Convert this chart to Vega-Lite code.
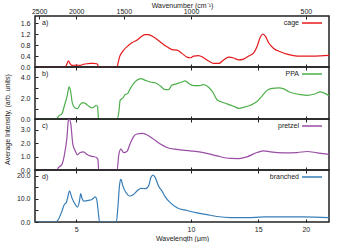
{
  "$schema": "https://vega.github.io/schema/vega-lite/v6.json",
  "padding": {"left": 2, "top": 0, "right": 0, "bottom": 0},
  "spacing": 0,
  "bounds": "flush",
  "datasets": {
    "cage": [
      {"wl": 3.9, "v": 0}, {"wl": 4.68, "v": 0}, {"wl": 4.72, "v": 0.08}, {"wl": 4.77, "v": 0.23}, {"wl": 4.82, "v": 0.12},
      {"wl": 4.87, "v": 0.06}, {"wl": 5.02, "v": 0.07}, {"wl": 5.12, "v": 0.06}, {"wl": 5.23, "v": 0.1}, {"wl": 5.33, "v": 0.12},
      {"wl": 5.44, "v": 0.13}, {"wl": 5.55, "v": 0.13}, {"wl": 5.66, "v": 0.12}, {"wl": 5.69, "v": 0.1}, {"wl": 5.72, "v": 0},
      {"wl": 6.4, "v": 0}, {"wl": 6.44, "v": 0.15}, {"wl": 6.5, "v": 0.38}, {"wl": 6.58, "v": 0.52}, {"wl": 6.66, "v": 0.62},
      {"wl": 6.79, "v": 0.74}, {"wl": 7.0, "v": 0.89}, {"wl": 7.21, "v": 0.98}, {"wl": 7.43, "v": 1.13}, {"wl": 7.59, "v": 1.19},
      {"wl": 7.74, "v": 1.19}, {"wl": 7.98, "v": 1.1}, {"wl": 8.31, "v": 0.92}, {"wl": 8.65, "v": 0.74}, {"wl": 8.91, "v": 0.64},
      {"wl": 9.19, "v": 0.62}, {"wl": 9.47, "v": 0.5}, {"wl": 9.76, "v": 0.36}, {"wl": 9.96, "v": 0.34}, {"wl": 10.16, "v": 0.4},
      {"wl": 10.47, "v": 0.42}, {"wl": 10.79, "v": 0.34}, {"wl": 11.12, "v": 0.22}, {"wl": 11.46, "v": 0.13}, {"wl": 11.82, "v": 0.13},
      {"wl": 12.18, "v": 0.26}, {"wl": 12.55, "v": 0.36}, {"wl": 12.94, "v": 0.33}, {"wl": 13.33, "v": 0.26}, {"wl": 13.74, "v": 0.29},
      {"wl": 14.16, "v": 0.4}, {"wl": 14.6, "v": 0.52}, {"wl": 14.89, "v": 0.74}, {"wl": 15.2, "v": 1.1}, {"wl": 15.44, "v": 1.21},
      {"wl": 15.66, "v": 1.13}, {"wl": 15.98, "v": 0.89}, {"wl": 16.47, "v": 0.68}, {"wl": 17.15, "v": 0.56}, {"wl": 17.85, "v": 0.47},
      {"wl": 18.58, "v": 0.42}, {"wl": 19.35, "v": 0.4}, {"wl": 20.55, "v": 0.4}, {"wl": 21.83, "v": 0.41}, {"wl": 23.0, "v": 0.43}
    ],
    "ppa": [
      {"wl": 3.9, "v": 0}, {"wl": 4.45, "v": 0}, {"wl": 4.49, "v": 0.26}, {"wl": 4.59, "v": 0.52}, {"wl": 4.66, "v": 1.32},
      {"wl": 4.74, "v": 2.28}, {"wl": 4.79, "v": 3.08}, {"wl": 4.83, "v": 2.76}, {"wl": 4.89, "v": 1.48}, {"wl": 4.97, "v": 1.06},
      {"wl": 5.04, "v": 1.0}, {"wl": 5.12, "v": 1.38}, {"wl": 5.21, "v": 1.58}, {"wl": 5.28, "v": 1.5}, {"wl": 5.39, "v": 1.25},
      {"wl": 5.5, "v": 1.06}, {"wl": 5.57, "v": 1.15}, {"wl": 5.64, "v": 1.32}, {"wl": 5.69, "v": 1.2}, {"wl": 5.72, "v": 0.1},
      {"wl": 5.76, "v": 0}, {"wl": 6.4, "v": 0}, {"wl": 6.47, "v": 0.67}, {"wl": 6.52, "v": 1.8}, {"wl": 6.63, "v": 2.02},
      {"wl": 6.72, "v": 2.35}, {"wl": 6.82, "v": 2.44}, {"wl": 6.93, "v": 2.92}, {"wl": 7.07, "v": 3.4}, {"wl": 7.21, "v": 3.72},
      {"wl": 7.39, "v": 3.88}, {"wl": 7.59, "v": 3.72}, {"wl": 7.82, "v": 3.56}, {"wl": 8.06, "v": 3.49}, {"wl": 8.31, "v": 3.17},
      {"wl": 8.56, "v": 2.83}, {"wl": 8.73, "v": 2.83}, {"wl": 8.91, "v": 3.24}, {"wl": 9.19, "v": 3.4}, {"wl": 9.47, "v": 3.56},
      {"wl": 9.66, "v": 3.67}, {"wl": 9.86, "v": 3.42}, {"wl": 10.16, "v": 3.2}, {"wl": 10.47, "v": 3.2}, {"wl": 10.79, "v": 3.3},
      {"wl": 11.12, "v": 3.05}, {"wl": 11.42, "v": 2.55}, {"wl": 11.7, "v": 1.85}, {"wl": 11.94, "v": 1.68}, {"wl": 12.43, "v": 1.46},
      {"wl": 12.94, "v": 1.22}, {"wl": 13.33, "v": 1.03}, {"wl": 13.74, "v": 1.12}, {"wl": 14.31, "v": 1.32}, {"wl": 14.89, "v": 1.68},
      {"wl": 15.35, "v": 2.2}, {"wl": 15.82, "v": 2.75}, {"wl": 16.31, "v": 2.95}, {"wl": 16.98, "v": 3.0}, {"wl": 17.5, "v": 2.9},
      {"wl": 18.04, "v": 2.62}, {"wl": 18.58, "v": 2.48}, {"wl": 19.35, "v": 2.35}, {"wl": 20.15, "v": 2.28}, {"wl": 20.98, "v": 2.38},
      {"wl": 21.83, "v": 2.6}, {"wl": 22.51, "v": 2.44}, {"wl": 23.0, "v": 2.22}
    ],
    "pretzel": [
      {"wl": 3.9, "v": 0}, {"wl": 4.45, "v": 0}, {"wl": 4.49, "v": 0.17}, {"wl": 4.59, "v": 0.42}, {"wl": 4.66, "v": 1.17},
      {"wl": 4.73, "v": 2.43}, {"wl": 4.77, "v": 3.68}, {"wl": 4.8, "v": 3.78}, {"wl": 4.84, "v": 3.43}, {"wl": 4.9, "v": 1.93},
      {"wl": 4.97, "v": 1.43}, {"wl": 5.04, "v": 1.13}, {"wl": 5.12, "v": 1.3}, {"wl": 5.23, "v": 1.35}, {"wl": 5.33, "v": 1.17},
      {"wl": 5.44, "v": 1.05}, {"wl": 5.55, "v": 1.0}, {"wl": 5.66, "v": 0.92}, {"wl": 5.7, "v": 0.8}, {"wl": 5.73, "v": 0},
      {"wl": 6.4, "v": 0}, {"wl": 6.47, "v": 1.17}, {"wl": 6.55, "v": 1.55}, {"wl": 6.66, "v": 1.3}, {"wl": 6.79, "v": 1.38},
      {"wl": 6.93, "v": 1.98}, {"wl": 7.07, "v": 2.48}, {"wl": 7.21, "v": 2.68}, {"wl": 7.44, "v": 2.73}, {"wl": 7.66, "v": 2.63},
      {"wl": 7.98, "v": 2.3}, {"wl": 8.31, "v": 1.93}, {"wl": 8.65, "v": 1.68}, {"wl": 9.19, "v": 1.53}, {"wl": 9.96, "v": 1.43},
      {"wl": 10.79, "v": 1.3}, {"wl": 11.7, "v": 1.05}, {"wl": 12.68, "v": 0.86}, {"wl": 13.33, "v": 0.85}, {"wl": 14.02, "v": 0.98},
      {"wl": 14.89, "v": 1.3}, {"wl": 15.51, "v": 1.43}, {"wl": 16.15, "v": 1.35}, {"wl": 17.5, "v": 1.28}, {"wl": 18.97, "v": 1.3},
      {"wl": 20.15, "v": 1.38}, {"wl": 21.41, "v": 1.28}, {"wl": 23.0, "v": 1.17}
    ],
    "branched": [
      {"wl": 3.9, "v": 0}, {"wl": 4.4, "v": 0}, {"wl": 4.49, "v": 1.1}, {"wl": 4.59, "v": 4.8}, {"wl": 4.66, "v": 7.7},
      {"wl": 4.71, "v": 8.4}, {"wl": 4.76, "v": 11.3}, {"wl": 4.8, "v": 13.5}, {"wl": 4.87, "v": 10.6}, {"wl": 4.97, "v": 7.7},
      {"wl": 5.04, "v": 6.5}, {"wl": 5.1, "v": 9.1}, {"wl": 5.14, "v": 12.3}, {"wl": 5.18, "v": 10.3}, {"wl": 5.23, "v": 9.1},
      {"wl": 5.39, "v": 9.4}, {"wl": 5.5, "v": 9.8}, {"wl": 5.61, "v": 10.9}, {"wl": 5.66, "v": 9.8}, {"wl": 5.71, "v": 4.8},
      {"wl": 5.76, "v": 0}, {"wl": 6.37, "v": 0}, {"wl": 6.43, "v": 6.2}, {"wl": 6.5, "v": 16.4}, {"wl": 6.55, "v": 18.5},
      {"wl": 6.63, "v": 15.6}, {"wl": 6.76, "v": 12.7}, {"wl": 6.9, "v": 11.3}, {"wl": 7.07, "v": 12.0}, {"wl": 7.24, "v": 13.7},
      {"wl": 7.39, "v": 14.6}, {"wl": 7.59, "v": 14.5}, {"wl": 7.74, "v": 15.6}, {"wl": 7.85, "v": 19.3}, {"wl": 7.95, "v": 20.4},
      {"wl": 8.06, "v": 19.3}, {"wl": 8.22, "v": 15.6}, {"wl": 8.39, "v": 13.5}, {"wl": 8.56, "v": 10.9}, {"wl": 8.82, "v": 8.4},
      {"wl": 9.19, "v": 6.2}, {"wl": 9.76, "v": 5.0}, {"wl": 10.37, "v": 4.0}, {"wl": 11.01, "v": 3.2}, {"wl": 11.7, "v": 2.4},
      {"wl": 12.68, "v": 1.9}, {"wl": 14.02, "v": 1.9}, {"wl": 15.51, "v": 2.2}, {"wl": 17.5, "v": 2.2}, {"wl": 19.75, "v": 2.2},
      {"wl": 23.0, "v": 1.9}
    ]
  },
  "vconcat": [
    {
      "width": 294, "height": 51,
      "layer": [
        {
          "data": {"name": "cage"},
          "mark": {"type": "line", "clip": true, "strokeWidth": 1.2, "interpolate": "monotone"},
          "encoding": {
            "x": {"field": "wl", "type": "quantitative", "scale": {"type": "log", "domain": [3.9, 23], "nice": false},
                  "axis": {"orient": "bottom", "values": [5, 10, 15, 20], "labels": false, "title": null}},
            "y": {"field": "v", "type": "quantitative", "scale": {"domain": [0, 1.87], "nice": false},
                  "axis": {"values": [0, 0.4, 0.8, 1.2, 1.6], "format": ".1f", "title": null, "labelOverlap": false, "labelBound": false}},
            "color": {"datum": "cage", "scale": {"domain": ["cage"], "range": ["#e41a1c"]}, "legend": {"title": null}}
          }
        },
        {
          "data": {"values": [{"label": "a)"}]},
          "mark": {"type": "text", "align": "left", "baseline": "middle", "dx": 7, "dy": 7, "fontSize": 7, "color": "#222"},
          "encoding": {
            "x": {"datum": 3.9, "type": "quantitative",
                  "axis": {"orient": "top", "values": [4, 5, 6.6667, 10, 20], "labelExpr": "format(10000 / datum.value, 'd')", "labelPadding": 5, "title": "Wavenumber (cm⁻¹)", "titlePadding": -1}},
            "y": {"datum": 1.87, "type": "quantitative", "axis": null},
            "text": {"field": "label"}
          }
        }
      ],
      "resolve": {"axis": {"x": "independent", "y": "independent"}}
    },
    {
      "width": 294, "height": 52,
      "layer": [
        {
          "data": {"name": "ppa"},
          "mark": {"type": "line", "clip": true, "strokeWidth": 1.2, "interpolate": "monotone"},
          "encoding": {
            "x": {"field": "wl", "type": "quantitative", "scale": {"type": "log", "domain": [3.9, 23], "nice": false},
                  "axis": {"orient": "bottom", "values": [5, 10, 15, 20], "labels": false, "title": null}},
            "y": {"field": "v", "type": "quantitative", "scale": {"domain": [0, 5], "nice": false},
                  "axis": {"values": [0, 1, 2, 3, 4], "labelExpr": "datum.value % 2 == 0 ? format(datum.value, '.1f') : ''", "title": null, "labelOverlap": false, "labelBound": false}},
            "color": {"datum": "PPA", "scale": {"domain": ["PPA"], "range": ["#4daf4a"]}, "legend": {"title": null}}
          }
        },
        {
          "data": {"values": [{"label": "b)"}]},
          "mark": {"type": "text", "align": "left", "baseline": "middle", "dx": 7, "dy": 7, "fontSize": 7, "color": "#222"},
          "encoding": {
            "x": {"datum": 3.9, "type": "quantitative",
                  "axis": {"orient": "top", "values": [5, 10, 15, 20], "labels": false, "title": null}},
            "y": {"datum": 5, "type": "quantitative", "axis": null},
            "text": {"field": "label"}
          }
        }
      ],
      "resolve": {"axis": {"x": "independent", "y": "independent"}}
    },
    {
      "width": 294, "height": 51,
      "layer": [
        {
          "data": {"name": "pretzel"},
          "mark": {"type": "line", "clip": true, "strokeWidth": 1.2, "interpolate": "monotone"},
          "encoding": {
            "x": {"field": "wl", "type": "quantitative", "scale": {"type": "log", "domain": [3.9, 23], "nice": false},
                  "axis": {"orient": "bottom", "values": [5, 10, 15, 20], "labels": false, "title": null}},
            "y": {"field": "v", "type": "quantitative", "scale": {"domain": [0, 3.8], "nice": false},
                  "axis": {"values": [0, 1, 2, 3], "format": ".1f", "labelOverlap": false, "labelBound": false, "title": "Average Intensity, (arb. units)", "titleX": -25, "titleY": 0, "titleAngle": 270, "titleAlign": "center", "titleBaseline": "bottom"}},
            "color": {"datum": "pretzel", "scale": {"domain": ["pretzel"], "range": ["#984ea3"]}, "legend": {"title": null}}
          }
        },
        {
          "data": {"values": [{"label": "c)"}]},
          "mark": {"type": "text", "align": "left", "baseline": "middle", "dx": 7, "dy": 7, "fontSize": 7, "color": "#222"},
          "encoding": {
            "x": {"datum": 3.9, "type": "quantitative",
                  "axis": {"orient": "top", "values": [5, 10, 15, 20], "labels": false, "title": null}},
            "y": {"datum": 3.8, "type": "quantitative", "axis": null},
            "text": {"field": "label"}
          }
        }
      ],
      "resolve": {"axis": {"x": "independent", "y": "independent"}}
    },
    {
      "width": 294, "height": 52,
      "layer": [
        {
          "data": {"name": "branched"},
          "mark": {"type": "line", "clip": true, "strokeWidth": 1.2, "interpolate": "monotone"},
          "encoding": {
            "x": {"field": "wl", "type": "quantitative", "scale": {"type": "log", "domain": [3.9, 23], "nice": false},
                  "axis": {"orient": "bottom", "values": [5, 10, 15, 20], "format": "d", "labelPadding": 6, "title": "Wavelength (μm)", "titlePadding": 2}},
            "y": {"field": "v", "type": "quantitative", "scale": {"domain": [0, 22.6], "nice": false},
                  "axis": {"values": [0, 5, 10, 15, 20], "labelExpr": "datum.value % 10 == 0 ? format(datum.value, '.1f') : ''", "title": null, "labelOverlap": false, "labelBound": false}},
            "color": {"datum": "branched", "scale": {"domain": ["branched"], "range": ["#377eb8"]}, "legend": {"title": null}}
          }
        },
        {
          "data": {"values": [{"label": "d)"}]},
          "mark": {"type": "text", "align": "left", "baseline": "middle", "dx": 7, "dy": 7, "fontSize": 7, "color": "#222"},
          "encoding": {
            "x": {"datum": 3.9, "type": "quantitative",
                  "axis": {"orient": "top", "values": [5, 10, 15, 20], "labels": false, "title": null}},
            "y": {"datum": 22.6, "type": "quantitative", "axis": null},
            "text": {"field": "label"}
          }
        }
      ],
      "resolve": {"axis": {"x": "independent", "y": "independent"}}
    }
  ],
  "resolve": {"scale": {"color": "independent"}},
  "config": {
    "view": {"stroke": "#222", "strokeWidth": 1.5},
    "axis": {
      "grid": false, "domain": false, "labelFont": "Liberation Sans", "labelFontSize": 7, "labelColor": "#222",
      "titleFont": "Liberation Sans", "titleFontSize": 7, "titleFontWeight": "normal", "titleColor": "#222",
      "tickColor": "#222", "tickSize": -3, "labelPadding": 8, "labelFlush": false, "labelOverlap": false
    },
    "legend": {
      "orient": "none", "legendX": 266, "legendY": -4, "padding": 0, "symbolType": "stroke", "symbolSize": 400, "symbolStrokeWidth": 1.5,
      "labelFont": "Liberation Sans", "labelFontSize": 7, "labelColor": "#222", "labelAlign": "right", "labelOffset": -24
    },
    "text": {"font": "Liberation Sans"}
  }
}
